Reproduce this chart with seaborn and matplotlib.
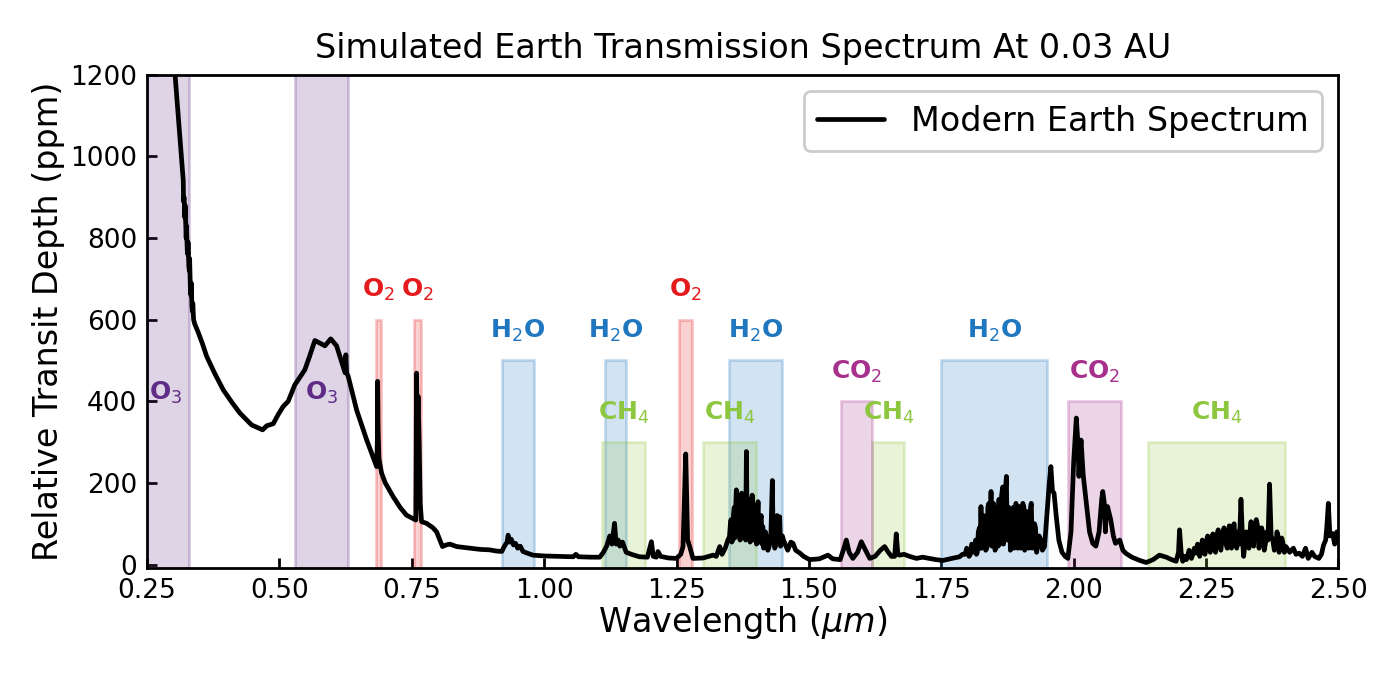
import matplotlib
matplotlib.use("Agg")
import matplotlib.pyplot as plt
from matplotlib.colors import to_rgba
import seaborn as sns
import pandas as pd

# ---------------- spectrum data (in segments) ----------------
wl_uv = [0.296, 0.303, 0.309, 0.3155, 0.3185, 0.319, 0.320, 0.3215, 0.322, 0.3235,
         0.324, 0.3245, 0.326, 0.327, 0.3275, 0.329, 0.330, 0.3305, 0.332, 0.333,
         0.3335, 0.335, 0.336, 0.3365, 0.338, 0.340, 0.347, 0.355, 0.3627, 0.378,
         0.394, 0.410, 0.4255, 0.4476, 0.460, 0.4684, 0.476, 0.4884, 0.498, 0.507,
         0.5167, 0.529, 0.548, 0.557, 0.567, 0.586, 0.597, 0.608, 0.6205, 0.624,
         0.6256, 0.627, 0.630, 0.6458, 0.6647, 0.675, 0.6836, 0.685, 0.6855, 0.6865,
         0.688, 0.693, 0.700, 0.715, 0.728, 0.740, 0.7577, 0.759, 0.7605, 0.762,
         0.764, 0.766, 0.7685, 0.778, 0.790, 0.797]
dp_uv = [1400, 1200, 1100, 993, 940, 890, 900, 850, 880, 820,
         800, 830, 770, 760, 790, 730, 720, 750, 670, 660,
         690, 630, 620, 640, 600, 590, 568, 540, 510, 468,
         428, 398, 371, 342, 335, 330, 340, 345, 368, 387,
         400, 440, 477, 510, 549, 536, 553, 536, 485, 470,
         514, 470, 461, 379, 306, 270, 240, 300, 449, 330,
         260, 224, 200, 166, 140, 121, 109, 469, 330, 412,
         300, 150, 105, 101, 90, 80]

wl_nir1 = [0.803, 0.808, 0.815, 0.822, 0.835, 0.860, 0.880, 0.897, 0.905, 0.910,
           0.920, 0.925, 0.930, 0.932, 0.935, 0.938, 0.942, 0.946, 0.950, 0.955,
           0.960, 0.970, 0.979, 1.000, 1.030, 1.055, 1.060, 1.065, 1.090, 1.105,
           1.112, 1.118, 1.124, 1.128, 1.133, 1.136, 1.140, 1.143, 1.148, 1.155,
           1.165, 1.180, 1.195, 1.2026, 1.206, 1.212, 1.215, 1.220, 1.235, 1.2498,
           1.258, 1.2623, 1.2674, 1.271, 1.275, 1.281, 1.300, 1.319, 1.325, 1.3316,
           1.336, 1.342, 1.347]
dp_nir1 = [60, 44, 48, 50, 44, 40, 37, 36, 34, 33,
           32, 45, 55, 72, 55, 62, 48, 52, 40, 45,
           32, 27, 23, 21, 20, 19, 25, 19, 18, 18,
           30, 45, 70, 50, 101, 50, 60, 45, 55, 30,
           25, 19, 18, 56, 20, 18, 32, 20, 16, 15,
           25, 44, 271, 60, 44, 15, 16, 23, 20, 44,
           25, 40, 60]

wl_h2o14 = [1.350, 1.3515, 1.353, 1.3545, 1.356, 1.3575, 1.359, 1.360, 1.361, 1.362,
            1.363, 1.3645, 1.366, 1.3675, 1.369, 1.370, 1.371, 1.372, 1.373, 1.3745,
            1.376, 1.3775, 1.379, 1.3805, 1.382, 1.3835, 1.385, 1.3865, 1.388, 1.389,
            1.390, 1.3915, 1.393, 1.3945, 1.396, 1.398, 1.400, 1.401, 1.402, 1.403,
            1.404, 1.4055, 1.407, 1.4085, 1.410, 1.4115, 1.413, 1.4145, 1.416, 1.418,
            1.420, 1.4225, 1.425, 1.428, 1.431, 1.4325, 1.434, 1.4355, 1.437, 1.4385,
            1.440, 1.4425, 1.4448, 1.4465, 1.448, 1.450, 1.452]
dp_h2o14 = [68, 95, 110, 55, 60, 120, 140, 65, 80, 150,
            183, 70, 100, 160, 150, 60, 70, 140, 175, 65,
            90, 140, 120, 60, 277, 80, 110, 150, 160, 55,
            70, 130, 170, 60, 80, 130, 145, 50, 60, 120,
            154, 55, 70, 110, 120, 50, 93, 40, 50, 80,
            68, 35, 45, 60, 206, 70, 60, 40, 45, 100,
            120, 60, 117, 45, 50, 70, 60]

wl_mid = [1.460, 1.466, 1.470, 1.475, 1.483, 1.490, 1.5015, 1.520, 1.536, 1.545,
          1.559, 1.565, 1.5707, 1.576, 1.583, 1.592, 1.599, 1.605, 1.615, 1.625,
          1.635, 1.643, 1.650, 1.656, 1.662, 1.665, 1.668, 1.671, 1.680, 1.690,
          1.703, 1.715, 1.728, 1.740, 1.753, 1.770, 1.7846]
dp_mid = [35, 55, 52, 35, 28, 20, 12, 14, 23, 14,
          12, 35, 60, 30, 15, 30, 56, 40, 15, 20,
          35, 44, 30, 20, 20, 75, 25, 23, 25, 20,
          15, 18, 15, 12, 10, 15, 19]

wl_h2o19 = [1.790, 1.795, 1.798, 1.800, 1.8025, 1.805, 1.8075, 1.810, 1.8125, 1.815,
            1.8165, 1.818, 1.820, 1.822, 1.8235, 1.825, 1.8265, 1.828, 1.830, 1.832,
            1.834, 1.836, 1.838, 1.840, 1.842, 1.844, 1.8455, 1.847, 1.8485, 1.850,
            1.8515, 1.853, 1.8545, 1.856, 1.8575, 1.859, 1.8605, 1.862, 1.864, 1.866,
            1.8675, 1.869, 1.871, 1.873, 1.8745, 1.876, 1.8775, 1.879, 1.8805, 1.882,
            1.884, 1.886, 1.8875, 1.889, 1.891, 1.893, 1.8945, 1.896, 1.897, 1.898,
            1.900, 1.902, 1.904, 1.906, 1.9075, 1.909, 1.911, 1.913, 1.915, 1.917,
            1.9185, 1.920, 1.922, 1.924, 1.926, 1.928, 1.930, 1.932, 1.935, 1.938,
            1.941, 1.945]
dp_h2o19 = [25, 25, 40, 35, 20, 25, 50, 44, 30, 60,
            25, 30, 80, 90, 40, 142, 40, 50, 120, 110,
            35, 40, 140, 150, 50, 179, 45, 60, 150, 140,
            35, 40, 130, 120, 45, 160, 50, 60, 170, 190,
            50, 80, 180, 216, 60, 90, 140, 130, 35, 45,
            120, 140, 40, 60, 150, 130, 40, 50, 130, 142,
            40, 60, 150, 140, 35, 45, 130, 120, 40, 60,
            140, 150, 40, 50, 100, 90, 30, 44, 70, 60,
            35, 44]

wl_co2 = [1.950, 1.954, 1.957, 1.960, 1.963, 1.967, 1.972, 1.978, 1.984, 1.989,
          1.995, 2.000, 2.005, 2.008, 2.010, 2.012, 2.014, 2.018, 2.024, 2.030,
          2.036, 2.042, 2.048, 2.053, 2.055, 2.058, 2.060, 2.062, 2.064, 2.070,
          2.075, 2.079, 2.087, 2.093, 2.099, 2.110, 2.125, 2.137, 2.150, 2.162,
          2.175, 2.185, 2.1936, 2.198, 2.200, 2.203]
dp_co2 = [130, 200, 240, 180, 175, 120, 60, 30, 20, 15,
          80, 250, 359, 300, 216, 270, 305, 220, 150, 80,
          52, 45, 80, 160, 179, 150, 80, 140, 142, 110,
          70, 52, 60, 35, 27, 18, 10, 5, 12, 23,
          18, 12, 8, 30, 85, 30]

wl_ch4 = [2.206, 2.210, 2.213, 2.215, 2.218, 2.220, 2.2225, 2.225, 2.228, 2.231,
          2.234, 2.236, 2.238, 2.240, 2.243, 2.245, 2.248, 2.250, 2.253, 2.255,
          2.258, 2.260, 2.263, 2.265, 2.268, 2.270, 2.273, 2.275, 2.278, 2.2816,
          2.284, 2.287, 2.290, 2.292, 2.294, 2.296, 2.298, 2.300, 2.303, 2.305,
          2.308, 2.310, 2.313, 2.316, 2.319, 2.321, 2.323, 2.326, 2.328, 2.331,
          2.333, 2.335, 2.337, 2.340, 2.342, 2.345, 2.3476, 2.350, 2.352, 2.355,
          2.357, 2.360, 2.362, 2.365, 2.367, 2.370, 2.373, 2.376, 2.379, 2.382,
          2.384, 2.386, 2.388, 2.390, 2.393, 2.395, 2.398, 2.401]
dp_ch4 = [8, 20, 12, 20, 35, 30, 15, 25, 40, 28,
          50, 40, 20, 30, 60, 50, 25, 52, 70, 40,
          30, 60, 75, 45, 30, 70, 85, 55, 35, 76,
          90, 55, 40, 80, 95, 60, 40, 85, 100, 55,
          40, 80, 50, 160, 60, 20, 44, 80, 65, 40,
          80, 105, 55, 45, 95, 110, 93, 40, 55, 90,
          80, 35, 50, 80, 60, 197, 70, 60, 35, 50,
          80, 70, 30, 40, 65, 55, 30, 44]

wl_end = [2.408, 2.415, 2.420, 2.426, 2.432, 2.438, 2.443, 2.450, 2.455, 2.463,
          2.468, 2.472, 2.476, 2.478, 2.481, 2.484, 2.489, 2.493, 2.497, 2.500]
dp_end = [30, 40, 25, 28, 20, 40, 15, 30, 20, 15,
          25, 48, 60, 90, 150, 70, 76, 50, 80, 60]

wavelength = wl_uv + wl_nir1 + wl_h2o14 + wl_mid + wl_h2o19 + wl_co2 + wl_ch4 + wl_end
depth_ppm = dp_uv + dp_nir1 + dp_h2o14 + dp_mid + dp_h2o19 + dp_co2 + dp_ch4 + dp_end

# ---------------- absorption bands ----------------
band_species = ["O3", "O3", "O2", "O2", "O2",
                "H2O", "H2O", "H2O", "H2O",
                "CH4", "CH4", "CH4", "CH4",
                "CO2", "CO2"]
band_start = [0.24, 0.53, 0.682, 0.755, 1.255,
              0.92, 1.115, 1.35, 1.75,
              1.11, 1.30, 1.62, 2.14,
              1.56, 1.99]
band_end = [0.33, 0.63, 0.692, 0.767, 1.28,
            0.98, 1.155, 1.45, 1.95,
            1.19, 1.40, 1.68, 2.40,
            1.62, 2.09]
band_top = [1300, 1300, 600, 600, 600,
            500, 500, 500, 500,
            300, 300, 300, 300,
            400, 400]

species_label = {"O3": "O$_3$", "O2": "O$_2$", "H2O": "H$_2$O",
                 "CH4": "CH$_4$", "CO2": "CO$_2$"}
species_color = {"O3": "#5e2c86", "O2": "#e41a1c", "H2O": "#1f77c0",
                 "CH4": "#8dc63f", "CO2": "#a6308c"}

x_ticks = [0.25, 0.5, 0.75, 1.0, 1.25, 1.5, 1.75, 2.0, 2.25, 2.5]
y_ticks = [0, 200, 400, 600, 800, 1000, 1200]

# ---------------- plot ----------------
sns.set_theme(style="white")
plt.rcParams["font.family"] = ["DejaVu Sans"]
plt.rcParams["mathtext.fontset"] = "dejavusans"
plt.rcParams["text.color"] = "black"
plt.rcParams["axes.labelcolor"] = "black"
plt.rcParams["xtick.color"] = "black"
plt.rcParams["ytick.color"] = "black"

fig, ax = plt.subplots(figsize=(7, 3.4), dpi=200)
fig.subplots_adjust(left=0.105, right=0.956, top=0.890, bottom=0.165)

ymin, ymax = -8, 1200

for sp, s, e, t in zip(band_species, band_start, band_end, band_top):
    c = species_color[sp]
    ax.bar(s, t - ymin, width=e - s, bottom=ymin, align="edge",
           facecolor=to_rgba(c, 0.2), edgecolor=to_rgba(c, 0.25),
           linewidth=1.0, zorder=1)
    ty = 420 if sp == "O3" else t + 72
    ax.text((s + e) / 2, ty, species_label[sp], color=c, fontsize=9,
            fontweight="bold", ha="center", va="center", zorder=3)

df = pd.DataFrame({"wavelength": wavelength, "depth": depth_ppm})
sns.lineplot(data=df, x="wavelength", y="depth", color="black", linewidth=1.7,
             estimator=None, sort=False, label="Modern Earth Spectrum",
             ax=ax, zorder=2)

ax.set_xlim(0.25, 2.5)
ax.set_ylim(ymin, ymax)
ax.set_xticks(x_ticks)
ax.set_yticks(y_ticks)
ax.tick_params(direction="in", length=3.5, width=1, labelsize=9.5,
               top=False, right=False, left=True, bottom=True, colors="black")
for spine in ax.spines.values():
    spine.set_color("black")
    spine.set_linewidth(1.0)

ax.set_xlabel(r"Wavelength ($\mu m$)", fontsize=12, labelpad=0)
ax.set_ylabel("Relative Transit Depth (ppm)", fontsize=12, labelpad=2)
ax.set_title("Simulated Earth Transmission Spectrum At 0.03 AU", fontsize=12,
             pad=6, color="black")
ax.legend(loc="upper right", fontsize=12, frameon=True, fancybox=True,
          edgecolor="0.8", framealpha=1.0)

fig.savefig("out.png", dpi=200)
